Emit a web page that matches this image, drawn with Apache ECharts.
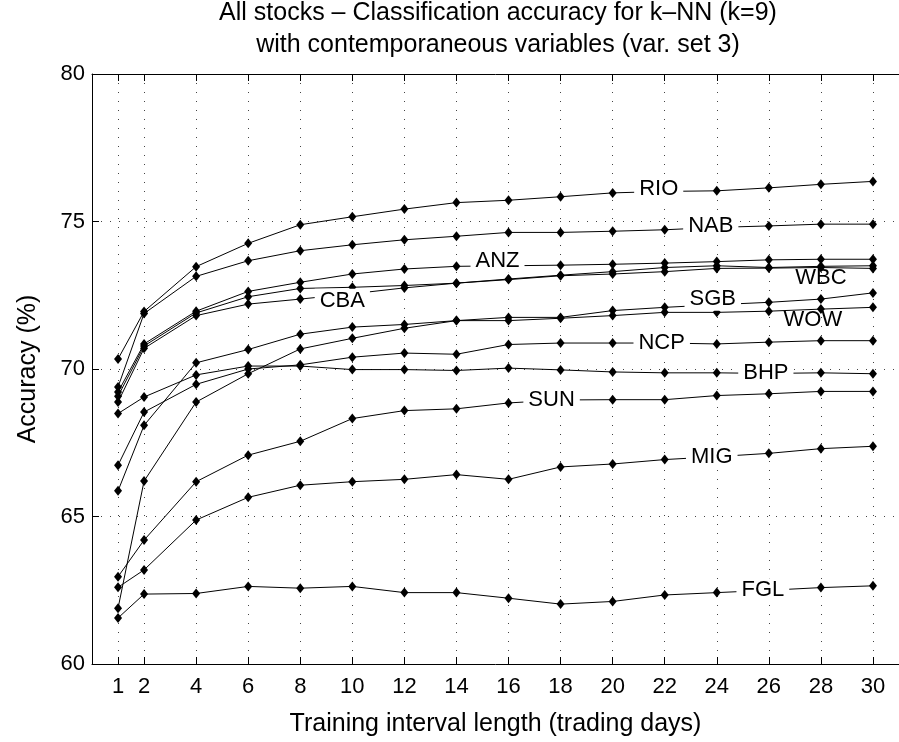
<!DOCTYPE html>
<html>
<head>
<meta charset="utf-8">
<script src="https://cdn.jsdelivr.net/npm/echarts@6.0.0/dist/echarts.min.js"></script>
<style>
  html, body { margin: 0; padding: 0; background: #fff; }
  #main { width: 899px; height: 742px; }
</style>
</head>
<body>
<div id="main"></div>
<script>
// training interval lengths (x ticks too)
var days = [1, 2, 4, 6, 8, 10, 12, 14, 16, 18, 20, 22, 24, 26, 28, 30];

// accuracy (%) per stock
var rio = [70.34, 71.95, 73.47, 74.26, 74.89, 75.16, 75.42, 75.64, 75.72, 75.84, 75.97, 76.02, 76.04, 76.14, 76.26, 76.36];
var nab = [69.39, 71.88, 73.14, 73.67, 74.01, 74.21, 74.38, 74.50, 74.63, 74.63, 74.67, 74.72, 74.80, 74.85, 74.91, 74.91];
var anz = [69.22, 70.85, 71.96, 72.63, 72.94, 73.22, 73.39, 73.48, 73.50, 73.52, 73.55, 73.59, 73.64, 73.70, 73.72, 73.72];
var wbc = [69.08, 70.78, 71.90, 72.45, 72.73, 72.77, 72.83, 72.91, 73.05, 73.18, 73.30, 73.44, 73.50, 73.44, 73.48, 73.50];
var cba = [68.88, 70.70, 71.81, 72.20, 72.37, 72.55, 72.75, 72.91, 73.03, 73.16, 73.22, 73.30, 73.41, 73.42, 73.44, 73.41];
var sgb = [61.89, 66.20, 68.88, 69.84, 70.68, 71.04, 71.38, 71.64, 71.75, 71.75, 71.98, 72.09, 72.18, 72.26, 72.37, 72.58];
var wow = [65.87, 68.09, 70.21, 70.66, 71.18, 71.42, 71.51, 71.64, 71.64, 71.72, 71.81, 71.92, 71.92, 71.96, 72.03, 72.09];
var ncp = [66.74, 68.54, 69.48, 70.00, 70.14, 70.40, 70.54, 70.50, 70.83, 70.88, 70.88, 70.88, 70.85, 70.91, 70.96, 70.96];
var bhp = [68.49, 69.05, 69.80, 70.10, 70.10, 69.98, 69.98, 69.95, 70.03, 69.97, 69.90, 69.87, 69.87, 69.85, 69.87, 69.84];
var sun = [62.96, 64.20, 66.18, 67.08, 67.55, 68.32, 68.59, 68.65, 68.85, 68.95, 68.96, 68.96, 69.10, 69.16, 69.24, 69.24];
var mig = [62.60, 63.19, 64.88, 65.65, 66.06, 66.18, 66.26, 66.42, 66.26, 66.68, 66.78, 66.93, 67.03, 67.14, 67.30, 67.38];
var fgl = [61.56, 62.37, 62.39, 62.63, 62.57, 62.63, 62.42, 62.42, 62.23, 62.03, 62.12, 62.34, 62.42, 62.50, 62.59, 62.65];

var names = ['RIO', 'NAB', 'ANZ', 'WBC', 'CBA', 'SGB', 'WOW', 'NCP', 'BHP', 'SUN', 'MIG', 'FGL'];
var values = [rio, nab, anz, wbc, cba, sgb, wow, ncp, bhp, sun, mig, fgl];
// the day at which each name is written on its line
var labelDay = [22, 24, 16, 28, 10, 24, 28, 22, 26, 18, 24, 26];

var yTicks = [60, 65, 70, 75, 80];

// label look (not data)
var labelOffset = {
    RIO: [-6, -2], NAB: [-6, -1], ANZ: [-11, -5], WBC: [0, 12], CBA: [-10, 7], SGB: [-4, -6],
    WOW: [-8, 11], NCP: [-3, 0], BHP: [-3, 0], SUN: [-9, 0], MIG: [-5, 0], FGL: [-6, 0]
};
var boxed = { WBC: false, WOW: false };

var FONT = 'Liberation Sans, Arial, Helvetica, sans-serif';
var chart = echarts.init(document.getElementById('main'), null, { renderer: 'canvas' });

var series = names.map(function (name, i) {
    var data = days.map(function (d, j) {
        var item = { value: [d, values[i][j]] };
        if (d === labelDay[i]) {
            var withBox = boxed[name] !== false;
            item.label = {
                show: true,
                formatter: name,
                position: 'inside',
                offset: labelOffset[name],
                color: '#000',
                fontSize: 22,
                fontFamily: FONT,
                backgroundColor: withBox ? '#fff' : 'transparent',
                padding: [1, 5]
            };
        }
        return item;
    });
    return {
        name: name,
        type: 'line',
        data: data,
        symbol: 'diamond',
        symbolSize: [8, 10],
        showSymbol: true,
        itemStyle: { color: '#000' },
        lineStyle: { color: '#000', width: 1 },
        emphasis: { disabled: true },
        silent: true,
        z: 3
    };
});

var tickDays = days.slice();

var option = {
    animation: false,
    backgroundColor: '#fff',
    title: {
        text: 'All stocks \u2013 Classification accuracy for k\u2013NN (k=9)\nwith contemporaneous variables (var. set 3)',
        left: 498,
        top: -3,
        padding: 0,
        textAlign: 'center',
        textStyle: {
            fontFamily: FONT,
            fontSize: 25,
            fontWeight: 'normal',
            color: '#000',
            lineHeight: 32
        }
    },
    grid: {
        left: 92,
        top: 74,
        width: 813,
        height: 592,
        containLabel: false
    },
    xAxis: [{
        type: 'value',
        min: 0,
        max: 31,
        name: 'Training interval length (trading days)',
        nameLocation: 'middle',
        nameGap: 48,
        nameTextStyle: { fontFamily: FONT, fontSize: 25, color: '#000' },
        axisLine: { show: true, lineStyle: { color: '#000', width: 1 } },
        axisTick: { show: true, inside: true, length: 7, customValues: tickDays, lineStyle: { color: '#000' } },
        axisLabel: { show: true, customValues: tickDays, margin: 12, fontFamily: FONT, fontSize: 22, color: '#000' },
        splitLine: { show: true, lineStyle: { color: '#444', width: 1, type: [1, 8] } }
    }, {
        type: 'value',
        position: 'top',
        min: 0,
        max: 31,
        axisLine: { show: true, onZero: false, lineStyle: { color: '#000', width: 1 } },
        axisTick: { show: true, inside: true, length: 7, customValues: tickDays, lineStyle: { color: '#000' } },
        axisLabel: { show: false },
        splitLine: { show: false }
    }],
    yAxis: [{
        type: 'value',
        min: yTicks[0],
        max: yTicks[yTicks.length - 1],
        interval: 5,
        name: 'Accuracy (%)',
        nameLocation: 'middle',
        nameGap: 51,
        nameTextStyle: { fontFamily: FONT, fontSize: 25, color: '#000' },
        axisLine: { show: true, lineStyle: { color: '#000', width: 1 } },
        axisTick: { show: true, inside: true, length: 7, lineStyle: { color: '#000' } },
        axisLabel: { margin: 7, fontFamily: FONT, fontSize: 22, color: '#000' },
        splitLine: { show: true, lineStyle: { color: '#444', width: 1, type: [1, 8] } }
    }],
    series: series
};

chart.setOption(option);
</script>
</body>
</html>
